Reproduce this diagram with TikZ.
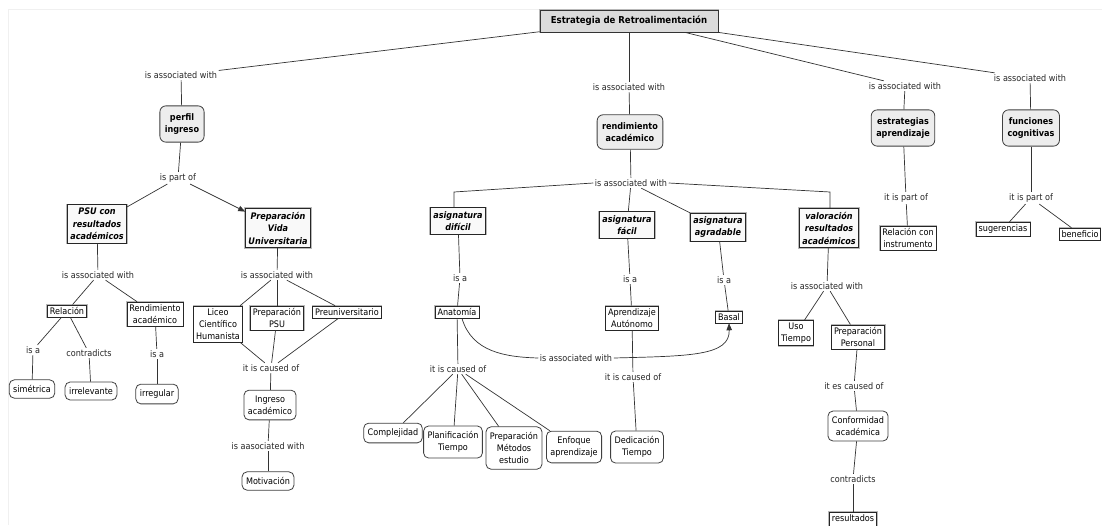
\documentclass[tikz,border=0pt]{standalone}
\usepackage{fontspec}
\setmainfont{DejaVu Sans Condensed}
\usetikzlibrary{arrows.meta}
\newcommand\fsz{\fontsize{9}{12}\selectfont}
\newcommand\fsb{\fontsize{9}{12.5}\selectfont\bfseries}
\newcommand\fsbi{\fontsize{9}{12.5}\selectfont\bfseries\itshape}
\tikzset{
  conn/.style={draw=black!80, line width=0.7pt},
  lab/.style={font=\fsz, inner sep=1.5pt, text=black!85},
  rc/.style={rounded corners=5pt, draw=black!75, line width=0.8pt, fill=white, align=center, inner xsep=4pt, inner ysep=5.5pt, font=\fsz},
  rcb/.style={rc, fill=gray!14, font=\fsb, inner xsep=5pt, inner ysep=7.5pt, rounded corners=6pt},
  sc/.style={rectangle, draw=black!85, line width=0.6pt, fill=white, align=center, inner sep=2.5pt, font=\fsz,
     preaction={draw=gray!55, line width=2pt}},
  sbi/.style={sc, fill=gray!5, font=\fsbi, inner xsep=3pt, inner ysep=3.5pt},
  rootbox/.style={rectangle, draw=black!80, line width=0.8pt, fill=gray!28, font=\fontsize{9.5}{11}\selectfont\bfseries, inner sep=3pt, minimum width=178pt, minimum height=22pt,
     preaction={draw=gray!55, line width=2pt}},
  tip/.style={-{Triangle[length=7pt,width=5.5pt]}}
}
\begin{document}
\begin{tikzpicture}[x=1pt,y=-1pt]
\useasboundingbox (0,0) rectangle (1102,525);
\draw[gray!12, line width=0.8pt] (1102,9) -- (8,9) -- (8,525);

% root
\node[rootbox] (root) at (629,21) {Estrategia de Retroalimentación};

% ---------- left branch ----------
\node[lab] (aw1) at (181,75) {is associated with};
\node[rcb] (perfil) at (182,124) {perfil\\ingreso};
\node[lab] (partof) at (178,178) {is part of};
\node[sbi] (psu) at (97,224) {PSU con\\resultados\\académicos};
\node[sbi] (pvu) at (278,228) {Preparación\\Vida\\Universitaria};
\node[lab] (aw2) at (98,275) {is associated with};
\node[sc] (relacion) at (67,311) {Relación};
\node[sc] (rendac) at (155,314) {Rendimiento\\académico};
\node[lab] (isa1) at (33,350) {is a};
\node[lab] (contr1) at (89,353) {contradicts};
\node[lab] (isa2) at (157,354) {is a};
\node[rc] (simetrica) at (32,389) {simétrica};
\node[rc] (irrelevante) at (91,391) {irrelevante};
\node[rc] (irregular) at (157,394) {irregular};
\node[lab] (aw3) at (277,275) {is associated with};
\node[sc] (liceo) at (218,324) {Liceo\\Científico\\Humanista};
\node[sc] (prepsu) at (277,318) {Preparación\\PSU};
\node[sc] (preuniv) at (347,312) {Preuniversitario};
\node[lab] (caused1) at (271,368) {it is caused of};
\node[rc] (ingreso) at (270,405) {Ingreso\\académico};
\node[lab] (aaso) at (268,446) {is aasociated with};
\node[rc] (motivacion) at (268,481) {Motivación};

\draw[conn] (root) -- (aw1);
\draw[conn] (aw1) -- (perfil);
\draw[conn] (perfil) -- (partof);
\draw[conn] (partof) -- (psu);
\draw[conn,tip] (partof) -- (pvu);
\draw[conn] (psu) -- (aw2);
\draw[conn] (aw2) -- (relacion);
\draw[conn] (aw2) -- (rendac);
\draw[conn] (relacion) -- (isa1);
\draw[conn] (relacion) -- (contr1);
\draw[conn] (rendac) -- (isa2);
\draw[conn] (isa1) -- (simetrica);
\draw[conn] (contr1) -- (irrelevante);
\draw[conn] (isa2) -- (irregular);
\draw[conn] (pvu) -- (aw3);
\draw[conn] (aw3) -- (liceo);
\draw[conn] (aw3) -- (prepsu);
\draw[conn] (aw3) -- (preuniv);
\draw[conn] (liceo) -- (caused1);
\draw[conn] (prepsu) -- (caused1);
\draw[conn] (preuniv) -- (caused1);
\draw[conn] (caused1) -- (ingreso);
\draw[conn] (ingreso) -- (aaso);
\draw[conn] (aaso) -- (motivacion);

% ---------- middle branch ----------
\node[lab] (aw4) at (629,87) {is associated with};
\node[rcb] (rendim) at (630,132) {rendimiento\\académico};
\node[lab] (aw5) at (631,183) {is associated with};
\node[sbi] (dificil) at (458,221) {asignatura\\difícil};
\node[sbi] (facil) at (627,225) {asignatura\\fácil};
\node[sbi] (agradable) at (718,227) {asignatura\\agradable};
\node[sbi] (valoracion) at (829,228) {valoración\\resultados\\académicos};
\coordinate (bendL) at (454,192);
\coordinate (bendR) at (830,192);
\node[lab] (isa3) at (460,278) {is a};
\node[sc] (anatomia) at (457,312) {Anatomía};
\node[lab] (caused2) at (458,369) {it is caused of};
\node[rc] (complejidad) at (393,433) {Complejidad};
\node[rc] (planif) at (453,442) {Planificación\\Tiempo};
\node[rc] (prepmet) at (514,448) {Preparación\\Métodos\\estudio};
\node[rc] (enfoque) at (574,447) {Enfoque\\aprendizaje};
\node[lab] (curvelab) at (576,358) {is associated with};
\node[lab] (isa4) at (630,279) {is a};
\node[sc] (aprend) at (632,318) {Aprendizaje\\Autónomo};
\node[lab] (caused3) at (633,377) {it is caused of};
\node[rc] (dedicacion) at (637,447) {Dedicación\\Tiempo};
\node[lab] (isa5) at (724,280) {is a};
\node[sc] (basal) at (729,317) {Basal};
\node[lab] (aw6) at (827,286) {is associated with};
\node[sc] (uso) at (796,333) {Uso\\Tiempo};
\node[sc] (prepers) at (858,337) {Preparación\\Personal};
\node[lab] (escaused) at (854,386) {it es caused of};
\node[rc] (conform) at (858,426) {Conformidad\\académica};
\node[lab] (contr2) at (853,479) {contradicts};
\node[sc, anchor=north] (resultados) at (853,512) {resultados\\\strut};

\draw[conn] (root) -- (aw4);
\draw[conn] (aw4) -- (rendim);
\draw[conn] (rendim) -- (aw5);
\draw[conn] (aw5.west) -- (bendL) -- (dificil.north -| bendL);
\draw[conn] (aw5.east) -- (bendR) -- (valoracion.north -| bendR);
\draw[conn] (aw5) -- (facil);
\draw[conn] (aw5) -- (agradable);
\draw[conn] (dificil) -- (isa3);
\draw[conn] (isa3) -- (anatomia);
\draw[conn] (anatomia) -- (caused2);
\draw[conn] (caused2) -- (complejidad);
\draw[conn] (caused2) -- (planif);
\draw[conn] (caused2) -- (prepmet);
\draw[conn] (caused2) -- (enfoque);
\draw[conn] (facil) -- (isa4);
\draw[conn] (isa4) -- (aprend);
\draw[conn] (aprend) -- (caused3);
\draw[conn] (caused3) -- (dedicacion);
\draw[conn] (agradable) -- (isa5);
\draw[conn] (isa5) -- (basal);
\draw[conn] ([xshift=5pt]anatomia.south) .. controls (472,352) and (505,357) .. (curvelab.west);
\draw[conn,tip] (curvelab.east) .. controls (690,356) and (730,356) .. (basal.south);
\draw[conn] (valoracion) -- (aw6);
\draw[conn] (aw6) -- (uso);
\draw[conn] (aw6) -- (prepers);
\draw[conn] (prepers) -- (escaused);
\draw[conn] (escaused) -- (conform);
\draw[conn] (conform) -- (contr2);
\draw[conn] (contr2) -- (resultados);

% ---------- right branches ----------
\node[lab] (aw7) at (905,86) {is associated with};
\node[rcb] (estrat) at (903,128) {estrategias\\aprendizaje};
\node[lab] (partof2) at (906,198) {it is part of};
\node[sc] (relinst) at (908,238) {Relación con\\instrumento};
\node[lab] (aw8) at (1030,78) {is associated with};
\node[rcb] (funciones) at (1031,128) {funciones\\cognitivas};
\node[lab] (partof3) at (1031,198) {it is part of};
\node[sc] (sugerencias) at (1003,229) {sugerencias};
\node[sc, inner xsep=1.8pt] (beneficio) at (1080,234) {beneficio};

\draw[conn] ([xshift=56pt]root.south) -- (aw7);
\draw[conn] (root.south east) -- (aw8);
\draw[conn] (aw7) -- (estrat);
\draw[conn] (estrat) -- (partof2);
\draw[conn] (partof2) -- (relinst);
\draw[conn] (aw8) -- (funciones);
\draw[conn] (funciones) -- (partof3);
\draw[conn] (partof3) -- (sugerencias);
\draw[conn] (partof3) -- (beneficio);
\end{tikzpicture}
\end{document}
